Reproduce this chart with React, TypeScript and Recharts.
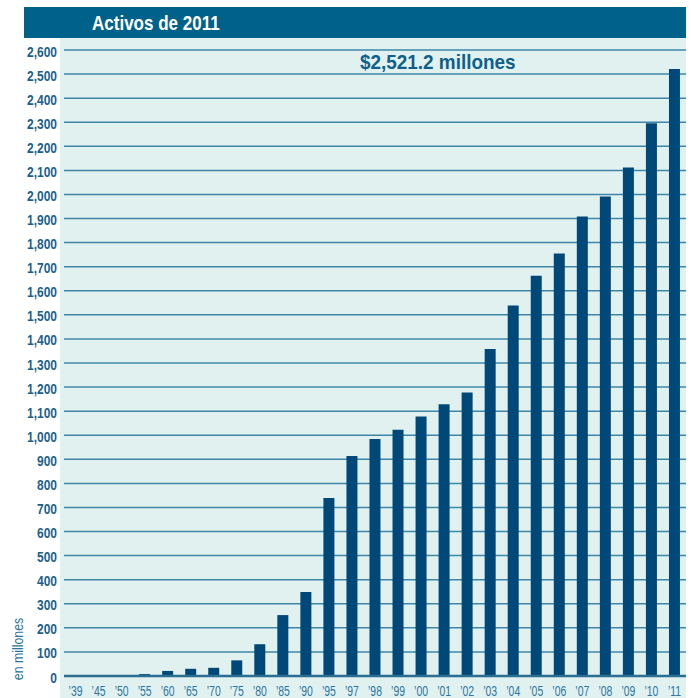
import React from 'react';
import { BarChart, Bar, XAxis, YAxis, CartesianGrid } from 'recharts';

const years = [
  "’39", "’45", "’50", "’55", "’60", "’65", "’70", "’75", "’80", "’85", "’90", "’95",
  "’97", "’98", "’99", "’00", "’01", "’02", "’03", "’04", "’05", "’06", "’07", "’08",
  "’09", "’10", "’11"
];

// activos en millones
const assets = [
  0.3, 0.6, 1.5, 8, 21, 30, 34, 65, 132, 253, 349, 739,
  914, 984, 1023, 1078, 1129, 1177, 1358, 1539, 1662, 1755, 1908, 1992,
  2112, 2296, 2521.2
];

const yTicks = Array.from({ length: 27 }, (_, i) => i * 100);

// no condensed face installed, so Liberation Sans gets squeezed with scaleX
const sans = "'Liberation Sans', Arial, sans-serif";

const chartData = years.map((year, i) => ({ year, value: assets[i] }));

const YTick = (props: any) => {
  const { x, y, payload } = props;
  return (
    <text
      transform={`translate(${x + 1},${y + 6.5}) scale(0.8,1)`}
      textAnchor="end"
      fill="#1B5F8C"
      fontFamily={sans}
      fontWeight="bold"
      fontSize={15}
    >
      {Number(payload.value).toLocaleString('en-US')}
    </text>
  );
};

const XTick = (props: any) => {
  const { x, payload } = props;
  return (
    <text
      transform={`translate(${x},696) scale(0.72,1)`}
      textAnchor="middle"
      fill="#2B76A0"
      fontFamily={sans}
      fontSize={14.5}
    >
      {payload.value}
    </text>
  );
};

export default function App() {
  return (
    <div style={{ position: 'absolute', left: 0, top: 0, width: 691, height: 698 }}>
      <div style={{ position: 'absolute', left: 60, top: 38, width: 626, height: 660, background: '#E1F1F0' }} />
      <div style={{ position: 'absolute', left: 24, top: 7, width: 662, height: 31, background: '#00628A' }} />
      <div
        style={{
          position: 'absolute',
          left: 92,
          top: 7,
          color: '#ffffff',
          fontFamily: sans,
          fontWeight: 'bold',
          fontSize: 21,
          lineHeight: '31px',
          whiteSpace: 'nowrap',
          transform: 'scaleX(0.81)',
          transformOrigin: 'left center'
        }}
      >
        Activos de 2011
      </div>
      <div style={{ position: 'absolute', left: 0, top: 0 }}>
        <BarChart
          width={691}
          height={698}
          data={chartData}
          margin={{ top: 50, right: 5, left: 0, bottom: 0 }}
        >
          <CartesianGrid horizontal={true} vertical={false} stroke="#3E86A8" strokeWidth={1.5} />
          <XAxis
            dataKey="year"
            interval={0}
            height={22}
            tickLine={false}
            axisLine={{ stroke: '#2A6E92', strokeWidth: 2.5 }}
            tick={<XTick />}
          />
          <YAxis
            type="number"
            domain={[0, 2600]}
            ticks={yTicks}
            interval={0}
            width={64}
            axisLine={false}
            tickLine={false}
            tick={<YTick />}
          />
          <Bar dataKey="value" fill="#004878" barSize={11} isAnimationActive={false} />
        </BarChart>
      </div>
      <div
        style={{
          position: 'absolute',
          left: 360,
          top: 51,
          color: '#0F5F8A',
          fontFamily: sans,
          fontWeight: 'bold',
          fontSize: 21,
          lineHeight: '21px',
          whiteSpace: 'nowrap',
          transform: 'scaleX(0.9)',
          transformOrigin: 'left center'
        }}
      >
        $2,521.2 millones
      </div>
      <div
        style={{
          position: 'absolute',
          left: -22,
          top: 639,
          width: 80,
          height: 20,
          lineHeight: '20px',
          textAlign: 'center',
          transform: 'rotate(-90deg) scaleX(0.85)',
          color: '#2B76A0',
          fontFamily: sans,
          fontSize: 14.5,
          whiteSpace: 'nowrap'
        }}
      >
        en millones
      </div>
    </div>
  );
}
